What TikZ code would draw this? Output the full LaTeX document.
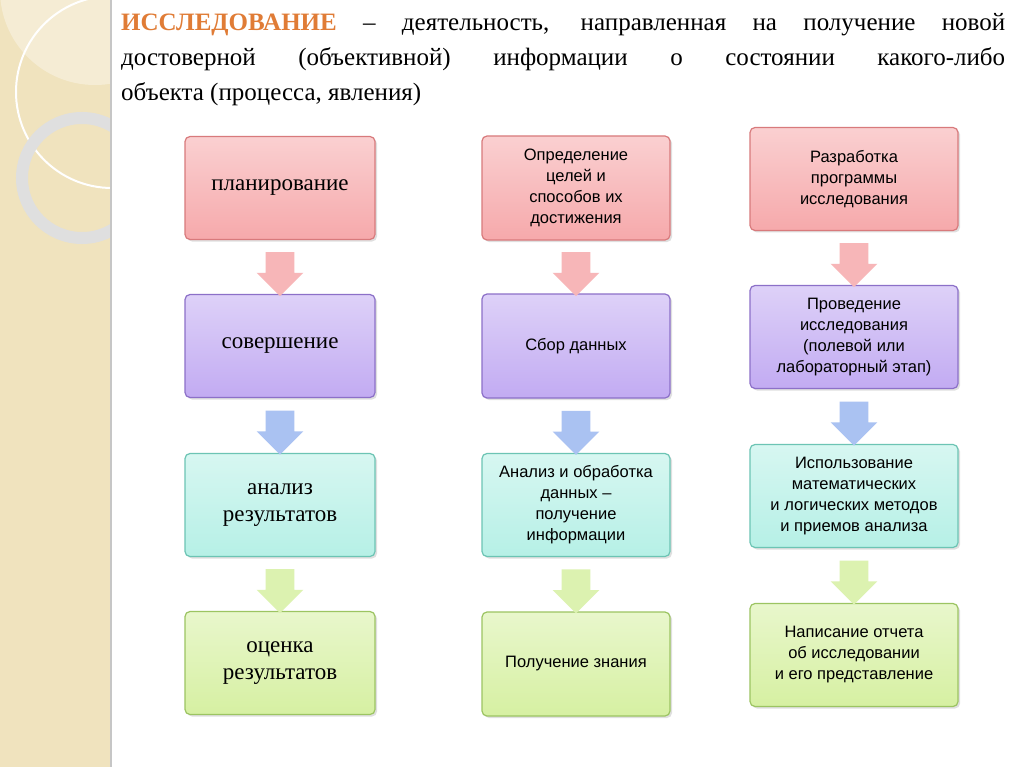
\documentclass[tikz,border=0pt]{standalone}
\usepackage{fontspec}
\setmainfont{Liberation Serif}
\newfontfamily\boxsans{Liberation Sans}
\usetikzlibrary{calc,shapes.arrows,shadows}

\definecolor{titleorange}{HTML}{E07C36}
\definecolor{strip}{HTML}{F0E3BE}
\definecolor{pinkfill}{HTML}{F6A9AB}
\definecolor{pinkline}{HTML}{D87A7C}
\definecolor{lilacfill}{HTML}{C2ABF2}
\definecolor{lilacline}{HTML}{8C70C8}
\definecolor{tealfill}{HTML}{B6F0E6}
\definecolor{tealline}{HTML}{6CC4B4}
\definecolor{greenfill}{HTML}{D6F0A2}
\definecolor{greenline}{HTML}{9CC462}
\definecolor{bluearrow}{HTML}{AAC2F2}

\tikzset{
  stage/.style={draw=#1line, line width=1.2pt, rounded corners=5pt,
                top color=#1fill!55, bottom color=#1fill,
                drop shadow={opacity=0.25, shadow xshift=2pt, shadow yshift=-2pt},
                align=center, inner sep=4pt},
  serifstage/.style={stage=#1, font=\fontsize{23}{27}\selectfont},
  sansstage/.style={stage=#1, font=\boxsans\fontsize{16.5}{21}\selectfont},
  downarr/.style={single arrow, rotate=-90, fill=#1, draw=none,
                  inner sep=10pt, single arrow head extend=9pt,
                  minimum height=44pt, shape border uses incircle}
}

\begin{document}
\begin{tikzpicture}[x=1pt, y=-1pt]
\useasboundingbox (0,0) rectangle (1024,767);
\fill[white] (0,0) rectangle (1024,767);

% left strip
\begin{scope}
  \clip (0,0) rectangle (110,767);
  \fill[strip] (0,0) rectangle (110,767);
  \fill[white, opacity=0.35] (95,-10) circle (95);
  \draw[white, line width=2pt] (112,92) circle (96);
  \draw[gray!25, line width=12pt] (82,178) circle (60);
\end{scope}
\draw[gray!45, line width=1.5pt] (111,0) -- (111,767);

% title
\node[anchor=base west, inner sep=0, font=\fontsize{25}{29}\selectfont] (t1) at (121,31)
  {\makebox[884pt][s]{\textcolor{titleorange}{\bfseries ИССЛЕДОВАНИЕ} – деятельность, направленная на получение новой}};
\node[anchor=base west, inner sep=0, font=\fontsize{25}{29}\selectfont] (t2) at (121,66)
  {\makebox[884pt][s]{достоверной (объективной) информации о состоянии какого-либо}};
\node[anchor=base west, inner sep=0, font=\fontsize{25}{29}\selectfont] (t3) at (121,101)
  {объекта (процесса, явления)};

% column 1
\node[serifstage=pink,  minimum width=190pt, minimum height=103pt] (a1) at (280,188) {планирование};
\node[serifstage=lilac, minimum width=190pt, minimum height=103pt] (a2) at (280,346) {совершение};
\node[serifstage=teal,  minimum width=190pt, minimum height=103pt] (a3) at (280,505) {анализ\\результатов};
\node[serifstage=green, minimum width=190pt, minimum height=103pt] (a4) at (280,663) {оценка\\результатов};

% column 2
\node[sansstage=pink,  minimum width=188pt, minimum height=104pt] (b1) at (576,188) {Определение\\целей и\\способов их\\достижения};
\node[sansstage=lilac, minimum width=188pt, minimum height=104pt] (b2) at (576,346) {Сбор данных};
\node[sansstage=teal,  minimum width=188pt, minimum height=103pt] (b3) at (576,505) {Анализ и обработка\\данных –\\получение\\информации};
\node[sansstage=green, minimum width=188pt, minimum height=104pt] (b4) at (576,664) {Получение знания};

% column 3
\node[sansstage=pink,  minimum width=208pt, minimum height=103pt] (c1) at (854,179) {Разработка\\программы\\исследования};
\node[sansstage=lilac, minimum width=208pt, minimum height=103pt] (c2) at (854,337) {Проведение\\исследования\\(полевой или\\лабораторный этап)};
\node[sansstage=teal,  minimum width=208pt, minimum height=103pt] (c3) at (854,496) {Использование\\математических\\и логических методов\\и приемов анализа};
\node[sansstage=green, minimum width=208pt, minimum height=103pt] (c4) at (854,655) {Написание отчета\\об исследовании\\и его представление};

% arrows
\foreach \col in {a,b,c}{
  \node[downarr=pinkfill!85]  (\col12) at ($(\col1.south)!0.5!(\col2.north)$) {};
  \node[downarr=bluearrow] (\col23) at ($(\col2.south)!0.5!(\col3.north)$) {};
  \node[downarr=greenfill!85] (\col34) at ($(\col3.south)!0.5!(\col4.north)$) {};
}
\end{tikzpicture}
\end{document}
